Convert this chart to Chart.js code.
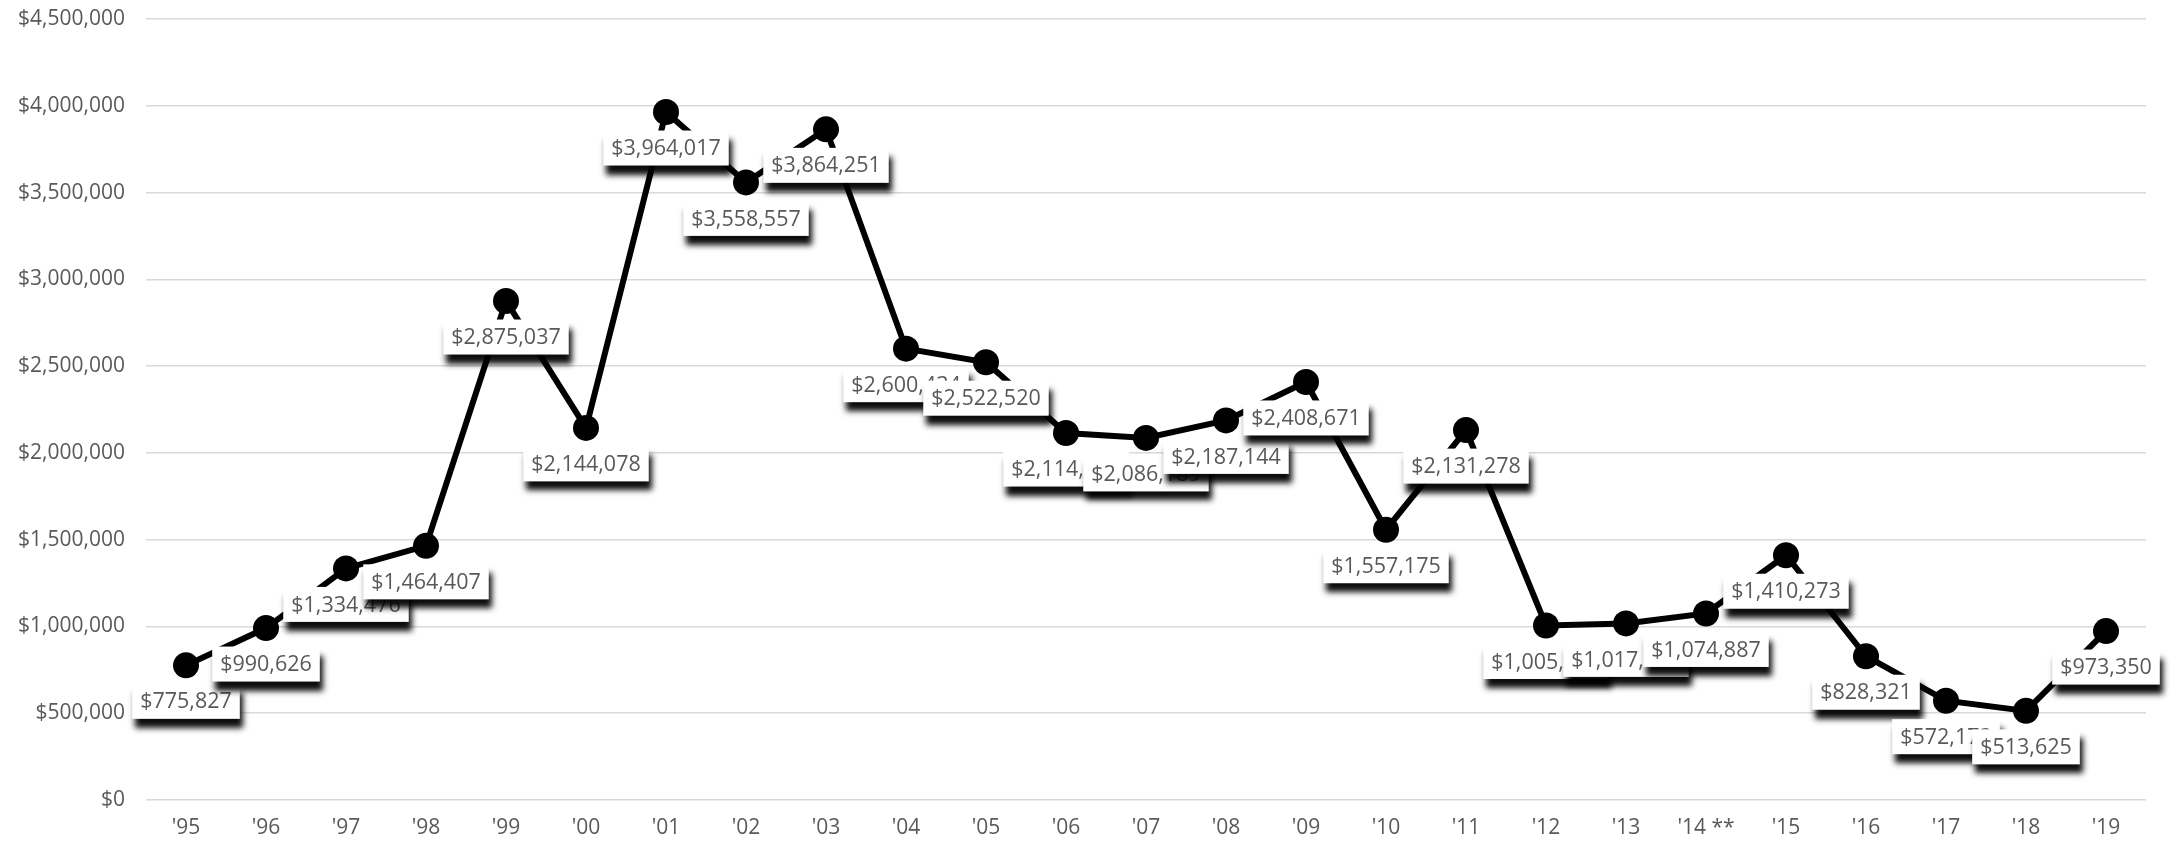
<!DOCTYPE html>
<html>
<head>
<meta charset="utf-8">
<script src="https://cdn.jsdelivr.net/npm/chart.js@4.4.1/dist/chart.umd.min.js"></script>
<style>
  html, body { margin: 0; padding: 0; background: #fff; }
  #wrap { width: 2174px; height: 842px; }
</style>
</head>
<body>
<div id="wrap"><canvas id="grafico" width="2174" height="842"></canvas></div>
<script>
// datos
var anios = ["'95","'96","'97","'98","'99","'00","'01","'02","'03","'04","'05","'06","'07","'08","'09","'10","'11","'12","'13","'14 **","'15","'16","'17","'18","'19"];
var montos = [775827, 990626, 1334476, 1464407, 2875037, 2144078, 3964017, 3558557, 3864251, 2600434, 2522520, 2114350, 2086189, 2187144, 2408671, 1557175, 2131278, 1005431, 1017520, 1074887, 1410273, 828321, 572173, 513625, 973350];
var eje_max = 4500000;
var eje_paso = 500000;

var gris = '#595959';

function dinero(v){
  return '$' + Math.round(v).toLocaleString('en-US');
}

//// etiquetas con caja blanca y sombra negra
var etiquetas_plugin = {
  id: 'etiquetas',
  afterDatasetsDraw: function(chart){
    var ctx = chart.ctx;
    var meta = chart.getDatasetMeta(0);
    ctx.save();
    ctx.font = '21.5px "Open Sans"';
    ctx.textAlign = 'center';
    ctx.textBaseline = 'middle';
    for (var i = 0; i < meta.data.length; i++){
      var p = meta.data[i];
      var txt = dinero(montos[i]);
      var w = ctx.measureText(txt).width + 16;
      var h = 35;
      var cy = p.y + 36;
      ctx.shadowColor = 'rgba(0,0,0,0.95)';
      ctx.shadowBlur = 6;
      ctx.shadowOffsetX = 3;
      ctx.shadowOffsetY = 9;
      ctx.fillStyle = '#fff';
      ctx.fillRect(p.x - w/2, cy - h/2, w, h);
      ctx.shadowColor = 'transparent';
      ctx.shadowBlur = 0;
      ctx.shadowOffsetX = 0;
      ctx.shadowOffsetY = 0;
      ctx.fillStyle = gris;
      ctx.fillText(txt, p.x, cy + 1);
    }
    ctx.restore();
  }
};

var ctx_g = document.getElementById('grafico').getContext('2d');

var grafico = new Chart(ctx_g, {
  type: 'line',
  data: {
    labels: anios,
    datasets: [{
      label: 'Monto',
      data: montos,
      borderColor: '#000',
      borderWidth: 6,
      backgroundColor: '#000',
      pointBackgroundColor: '#000',
      pointBorderColor: '#000',
      pointRadius: 13,
      pointBorderWidth: 0,
      tension: 0,
      fill: false
    }]
  },
  options: {
    responsive: false,
    animation: false,
    devicePixelRatio: 1,
    layout: { autoPadding: false, padding: { left: 0, right: 28, top: 0, bottom: 2 } },
    plugins: {
      legend: { display: false },
      tooltip: { enabled: false }
    },
    scales: {
      x: {
        type: 'category',
        offset: true,
        afterFit: function(s){ s.height = 40; },
        grid: { display: false, drawTicks: false },
        border: { display: false },
        ticks: {
          color: gris,
          padding: 15,
          maxRotation: 0,
          autoSkip: false,
          font: { family: 'Open Sans', size: 21 }
        }
      },
      y: {
        min: 0,
        max: eje_max,
        afterFit: function(s){ s.width = 146; s.paddingTop = 19; s.paddingBottom = 12; },
        grid: { color: '#d9d9d9', lineWidth: 1.5, drawTicks: false },
        border: { display: false },
        ticks: {
          stepSize: eje_paso,
          color: gris,
          padding: 21,
          font: { family: 'Open Sans', size: 21 },
          callback: function(v){ return dinero(v); }
        }
      }
    }
  },
  plugins: [etiquetas_plugin]
});
</script>
</body>
</html>
